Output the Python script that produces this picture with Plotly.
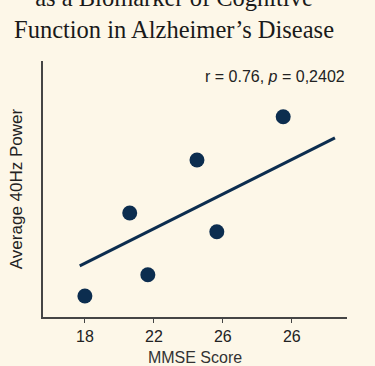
import plotly.graph_objects as go

# Data
mmse = [18.0, 20.6, 21.65, 24.5, 25.65, 29.5]
power = [0.82, 4.06, 1.65, 6.13, 3.33, 7.82]
fit_x = [17.7, 32.5]
fit_y = [2.0, 7.0]
tick_vals = [18, 22, 26, 30]
tick_text = ["18", "22", "26", "26"]
title_lines = ["40Hz Gamma Power", "as a Biomarker of Cognitive", "Function in Alzheimer’s Disease"]
stat_text = "r = 0.76, <i>p</i> = 0,2402"

NAVY = "#0c2d4f"
BG = "#fdf7e8"
AXIS = "#454545"

fig = go.Figure()
fig.add_trace(go.Scatter(x=fit_x, y=fit_y, mode="lines",
                         line=dict(color=NAVY, width=3), hoverinfo="skip"))
fig.add_trace(go.Scatter(x=mmse, y=power, mode="markers",
                         marker=dict(color=NAVY, size=15, line=dict(width=0))))

fig.update_layout(
    width=375, height=366,
    paper_bgcolor=BG, plot_bgcolor=BG,
    showlegend=False,
    margin=dict(l=43, r=28, t=61, b=49, autoexpand=False),
    font=dict(family="Liberation Sans, Arial, sans-serif", color="#222222"),
    xaxis=dict(range=[15.57, 33.2], tickvals=tick_vals, ticktext=tick_text, automargin=False,
               showgrid=False, zeroline=False, showline=True, linecolor=AXIS, linewidth=2,
               ticks="outside", ticklen=4, tickwidth=1, tickcolor=AXIS,
               tickfont=dict(size=16, color="#222222"),
               title=dict(text="MMSE Score", font=dict(size=16, color="#333333"), standoff=17)),
    yaxis=dict(range=[0, 10], showticklabels=False, ticks="", automargin=False,
               showgrid=False, zeroline=False, showline=True, linecolor=AXIS, linewidth=2,
               title=dict(text="Average 40Hz Power", font=dict(size=17, color="#222222"), standoff=14)),
    annotations=[
        dict(text="<br>".join(title_lines), xref="paper", yref="paper",
             x=0.43, y=1.063, xanchor="center", yanchor="bottom", showarrow=False,
             font=dict(family="Liberation Serif, Times New Roman, serif", size=24.5, color="#1a1a1a")),
        dict(text=stat_text, xref="paper", yref="paper", x=1.0, y=0.94,
             xanchor="right", yanchor="middle", showarrow=False,
             font=dict(size=16, color="#222222")),
    ],
)

fig.write_html("out.html", config={"displayModeBar": False},
               post_script="document.body.style.margin='0';document.body.style.padding='0';")
